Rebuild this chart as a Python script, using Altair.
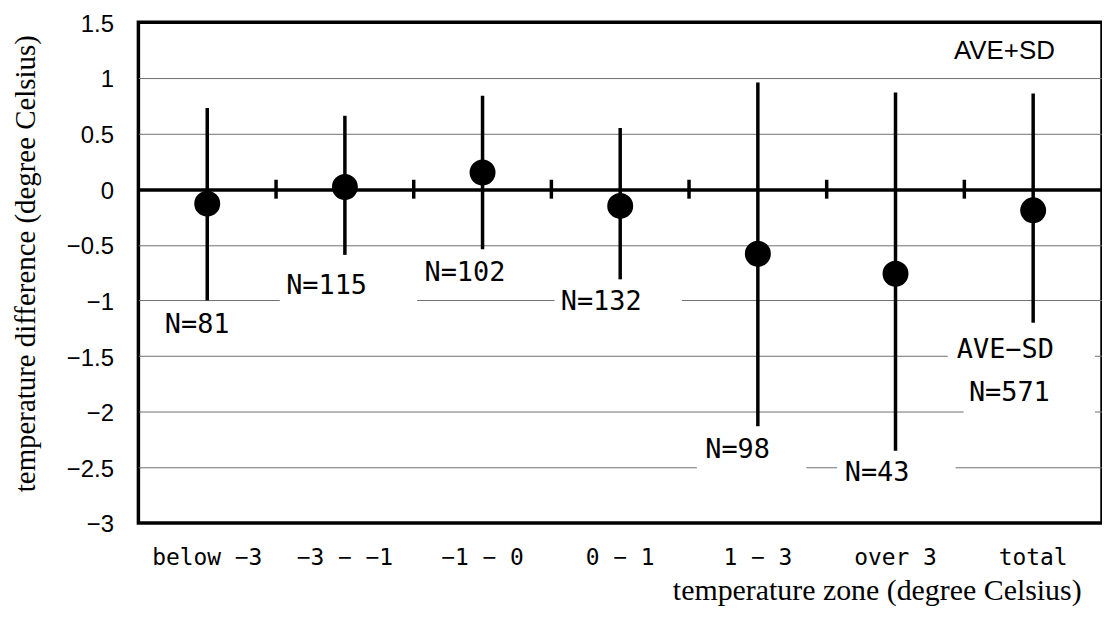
import altair as alt
import pandas as pd

# categories and values
cats = ["below −3", "−3 − −1", "−1 − 0", "0 − 1", "1 − 3", "over 3", "total"]
ave = [-0.13, 0.02, 0.15, -0.15, -0.58, -0.76, -0.19]
ave_plus_sd = [0.73, 0.66, 0.84, 0.55, 0.96, 0.87, 0.86]
ave_minus_sd = [-1.00, -0.59, -0.54, -0.81, -2.13, -2.35, -1.20]

# annotation text boxes (x in category units 0..7, y in data units)
labels = ["N=81", "N=115", "N=102", "N=132", "N=98", "N=43", "N=571", "AVE−SD"]
label_x = [0.427, 1.367, 2.372, 3.362, 4.353, 5.366, 6.327, 6.298]
label_y = [-1.22, -0.87, -0.755, -1.01, -2.34, -2.55, -1.83, -1.445]
box_x0 = [0.152, 1.027, 2.032, 3.023, 4.057, 5.076, 5.995, 5.879]
box_x1 = [0.947, 2.025, 3.008, 3.948, 4.852, 5.937, 6.949, 6.949]
box_y0 = [-1.39, -1.05, -0.93, -1.19, -2.52, -2.72, -2.03, -1.62]
box_y1 = [-1.05, -0.70, -0.58, -0.84, -2.17, -2.38, -1.65, -1.27]

top_label = ["AVE+SD"]
top_x = [6.291]
top_y = [1.24]

# zone boundaries (category units)
bounds = [1, 2, 3, 4, 5, 6]

y_ticks = [-3, -2.5, -2, -1.5, -1, -0.5, 0, 0.5, 1, 1.5]

df = pd.DataFrame({"cat": cats, "ave": ave, "hi": ave_plus_sd, "lo": ave_minus_sd})
df_lab = pd.DataFrame({"label": labels, "lx": label_x, "ly": label_y})
df_top = pd.DataFrame({"label": top_label, "lx": top_x, "ly": top_y})
df_box = pd.DataFrame({"bx0": box_x0, "bx1": box_x1, "by0": box_y0, "by1": box_y1})
df_bnd = pd.DataFrame({"b": bounds})

yscale = alt.Scale(domain=[-3, 1.5], nice=False, zero=False)
qx = alt.Scale(domain=[0, 7], nice=False, zero=False)
bx = alt.Scale(paddingInner=0, paddingOuter=0)

y_axis = alt.Axis(
    values=y_ticks, format="~g", ticks=False, domain=False,
    labelFont="Liberation Sans", labelFontSize=24, labelColor="black",
    labelPadding=25, labelOffset=2,
    grid=True,
    gridColor=alt.condition("datum.value == 0", alt.value("black"), alt.value("#707070")),
    gridWidth=alt.condition("datum.value == 0", alt.value(3.5), alt.value(1)),
    gridOpacity=alt.condition("datum.value == -3 || datum.value == 1.5", alt.value(0), alt.value(1)),
    title="temperature difference (degree Celsius)",
    titleFont="Liberation Serif", titleFontSize=29, titleFontWeight="normal",
    titleColor="black", titleAngle=270, titleX=-113, titleY=242,
    titleAlign="center", titleBaseline="middle",
)

x_axis = alt.Axis(
    labelAngle=0, ticks=False, domain=False, grid=False,
    labelFont="DejaVu Sans Mono", labelFontSize=23, labelColor="black",
    labelPadding=24,
    title="temperature zone (degree Celsius)",
    titleFont="Liberation Serif", titleFontSize=30, titleFontWeight="normal",
    titleColor="black", titleX=947, titleY=77, titleAlign="right",
    titleBaseline="alphabetic",
)

boxes = alt.Chart(df_box).mark_rect(color="white").encode(
    x=alt.X("bx0:Q", scale=qx, axis=None),
    x2="bx1:Q",
    y=alt.Y("by0:Q", scale=yscale, axis=y_axis),
    y2="by1:Q",
)

texts = alt.Chart(df_lab).mark_text(
    baseline="middle", align="center", color="black",
    font="DejaVu Sans Mono", fontSize=27,
).encode(
    x=alt.X("lx:Q", scale=qx, axis=None),
    y=alt.Y("ly:Q", scale=yscale, axis=y_axis),
    text="label:N",
)

top_text = alt.Chart(df_top).mark_text(
    baseline="middle", align="center", color="black",
    font="Liberation Sans", fontSize=26,
).encode(
    x=alt.X("lx:Q", scale=qx, axis=None),
    y=alt.Y("ly:Q", scale=yscale, axis=y_axis),
    text="label:N",
)

ticks = alt.Chart(df_bnd).mark_tick(orient="vertical", size=19, thickness=3.5, color="black", opacity=1).encode(
    x=alt.X("b:Q", scale=qx, axis=None),
    y=alt.datum(0, scale=yscale, axis=y_axis),
)

bars = alt.Chart(df).mark_rule(color="black", strokeWidth=3.5).encode(
    x=alt.X("cat:N", sort=cats, scale=bx, axis=x_axis),
    y=alt.Y("lo:Q", scale=yscale, axis=y_axis),
    y2="hi:Q",
)

points = alt.Chart(df).mark_point(filled=True, color="black", size=680, opacity=1, shape="circle").encode(
    x=alt.X("cat:N", sort=cats, scale=bx, axis=None),
    y=alt.Y("ave:Q", scale=yscale, axis=y_axis),
)

chart = alt.layer(boxes, texts, top_text, ticks, bars, points).resolve_scale(x="independent").properties(
    width=968, height=503,
    autosize=alt.AutoSizeParams(type="none"),
    padding={"left": 131, "top": 13, "right": 0, "bottom": 84},
    background="white",
).configure_view(stroke="black", strokeWidth=3.5)

chart.save("out.html", embed_options={"renderer": "svg", "actions": False})
